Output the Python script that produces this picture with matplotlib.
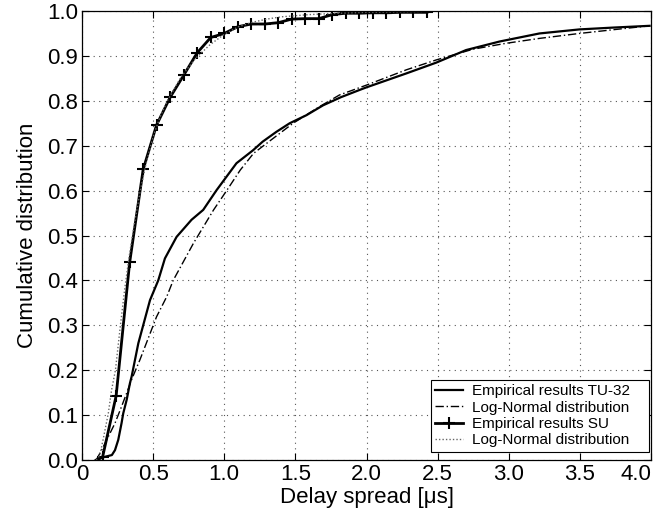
import matplotlib
matplotlib.use("Agg")
import matplotlib.pyplot as plt

plt.rcParams['font.family'] = ['Liberation Sans', 'DejaVu Sans']

# TU-32 empirical
tu_emp_x = [0.10, 0.16, 0.21, 0.232, 0.255, 0.278, 0.29, 0.314, 0.337, 0.349, 0.396, 0.478,
            0.536, 0.583, 0.665, 0.77, 0.852, 0.946, 1.016, 1.086, 1.203, 1.27, 1.367, 1.46,
            1.578, 1.695, 1.82, 1.95, 2.0, 2.28, 2.49, 2.70, 2.935, 3.216, 3.497, 3.73, 3.99]
tu_emp_y = [0.0, 0.007, 0.011, 0.022, 0.045, 0.082, 0.104, 0.134, 0.171, 0.186, 0.26, 0.356,
            0.40, 0.449, 0.497, 0.535, 0.557, 0.601, 0.631, 0.661, 0.69, 0.709, 0.731, 0.75,
            0.768, 0.79, 0.808, 0.824, 0.83, 0.861, 0.885, 0.913, 0.932, 0.95, 0.959, 0.963, 0.967]

# TU-32 log-normal
tu_ln_x = [0.10, 0.138, 0.185, 0.232, 0.278, 0.314, 0.35, 0.407, 0.524, 0.596, 0.641, 0.784,
           0.925, 1.019, 1.113, 1.206, 1.297, 1.484, 1.67, 1.81, 2.0, 2.28, 2.49, 2.75, 2.98,
           3.216, 3.497, 3.755, 3.99]
tu_ln_y = [0.0, 0.022, 0.052, 0.082, 0.119, 0.149, 0.18, 0.223, 0.319, 0.364, 0.40, 0.483,
           0.557, 0.601, 0.646, 0.683, 0.705, 0.75, 0.787, 0.813, 0.835, 0.869, 0.891, 0.915,
           0.928, 0.939, 0.95, 0.959, 0.967]

# SU empirical
su_emp_x = [0.10, 0.145, 0.24, 0.335, 0.43, 0.524, 0.62, 0.715, 0.81, 0.905, 1.0, 1.095, 1.19,
            1.285, 1.38, 1.475, 1.57, 1.665, 1.76, 1.855, 1.95, 2.045, 2.14, 2.235, 2.33, 2.425]
su_emp_y = [0.0, 0.007, 0.143, 0.44, 0.647, 0.746, 0.808, 0.857, 0.907, 0.941, 0.950, 0.965,
            0.971, 0.971, 0.974, 0.982, 0.983, 0.983, 0.992, 0.995, 0.995, 0.996, 0.996,
            0.997, 0.997, 0.997]

# SU log-normal
su_ln_x = [0.10, 0.125, 0.15, 0.185, 0.208, 0.235, 0.27, 0.30, 0.33, 0.37, 0.41, 0.45, 0.5,
           0.55, 0.6, 0.7, 0.8, 0.9, 1.0, 1.1, 1.2, 1.3, 1.4, 1.6, 1.8, 2.0, 2.2, 2.4]
su_ln_y = [0.0, 0.01, 0.048, 0.104, 0.156, 0.2, 0.3, 0.38, 0.45, 0.53, 0.6, 0.66, 0.72,
           0.765, 0.80, 0.855, 0.895, 0.925, 0.948, 0.965, 0.975, 0.982, 0.987, 0.992,
           0.995, 0.997, 0.998, 0.999]

xticks = [0, 0.5, 1.0, 1.5, 2.0, 2.5, 3.0, 3.5, 4.0]
xticklabels = ["0", "0.5", "1.0", "1.5", "2.0", "2.5", "3.0", "3.5", "4.0"]
yticks = [0.0, 0.1, 0.2, 0.3, 0.4, 0.5, 0.6, 0.7, 0.8, 0.9, 1.0]
yticklabels = ["0.0", "0.1", "0.2", "0.3", "0.4", "0.5", "0.6", "0.7", "0.8", "0.9", "1.0"]

fig = plt.figure(figsize=(6.6, 5.16), dpi=100)
ax = fig.add_axes([82/660, 56/516, 569/660, 449/516])

ax.plot(tu_emp_x, tu_emp_y, color='black', lw=1.6, ls='-', label='Empirical results TU-32')
ax.plot(tu_ln_x, tu_ln_y, color='black', lw=1.0, ls=(0, (6, 2, 1, 2)), label='Log-Normal distribution')
ax.plot(su_emp_x, su_emp_y, color='black', lw=2.0, ls='-', marker='+', markersize=9,
        markeredgewidth=1.5, markevery=slice(1, None), label='Empirical results SU')
ax.plot(su_ln_x, su_ln_y, color='#666666', lw=1.0, ls=(0, (1, 1.5)), label='Log-Normal distribution')

ax.set_xlim(0, 4.0)
ax.set_ylim(0, 1.0)
ax.set_xticks(xticks)
ax.set_xticklabels(xticklabels)
ax.set_yticks(yticks)
ax.set_yticklabels(yticklabels)
ax.tick_params(direction='in', top=True, right=True, labelsize=16, length=5, width=0.8, pad=3)
ax.get_xticklabels()[-1].set_horizontalalignment('right')
ax.get_xticklabels()[-1].set_x(4.03)
ax.grid(True, color='#555555', ls=(0, (1, 4)), lw=0.8)
for s in ax.spines.values():
    s.set_linewidth(0.9)

ax.set_xlabel('Delay spread [μs]', fontsize=16, labelpad=1)
ax.set_ylabel('Cumulative distribution', fontsize=16, labelpad=6)

leg = ax.legend(loc='lower left', bbox_to_anchor=(0.6125, 0.018, 0.3845, 0.1), mode='expand',
                borderaxespad=0, fontsize=11, frameon=True, fancybox=False, edgecolor='black',
                framealpha=1, handlelength=1.8, handletextpad=0.6, labelspacing=0.15,
                borderpad=0.3)
leg.get_frame().set_linewidth(0.8)

fig.savefig('out.png', dpi=100)
